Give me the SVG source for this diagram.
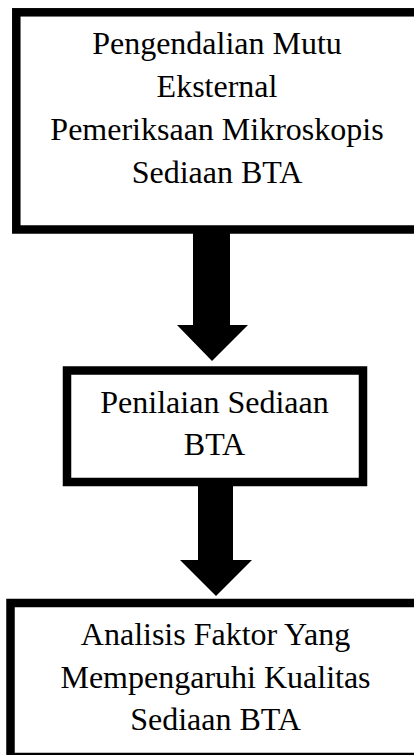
<svg xmlns="http://www.w3.org/2000/svg" width="414" height="755" viewBox="0 0 414 755">
<style>
.box{fill:#fff;stroke:#000;stroke-width:8.5}
.t{font-family:"Liberation Serif","Times New Roman",serif;font-size:32px;fill:#000;text-anchor:middle}
.arr{fill:#000}
</style>
<rect width="414" height="755" fill="#fff"/>
<g id="node1">
<rect class="box" x="16.3" y="12.3" width="420" height="217.2"/>
<text class="t" x="217" y="54">Pengendalian Mutu</text>
<text class="t" x="217" y="97">Eksternal</text>
<text class="t" x="217" y="140">Pemeriksaan Mikroskopis</text>
<text class="t" x="217" y="183">Sediaan BTA</text>
</g>
<g id="node2">
<rect class="box" x="67" y="370.5" width="296" height="111.5"/>
<text class="t" x="214.5" y="413">Penilaian Sediaan</text>
<text class="t" x="214.5" y="455">BTA</text>
</g>
<g id="node3">
<rect class="box" x="10.5" y="603" width="420" height="154"/>
<text class="t" x="215.5" y="645">Analisis Faktor Yang</text>
<text class="t" x="215.5" y="688">Mempengaruhi Kualitas</text>
<text class="t" x="215.5" y="730">Sediaan BTA</text>
</g>
<g id="connectors">
<polygon class="arr" points="193,233 230,233 230,325 248,325 212,361 177,325 193,325"/>
<polygon class="arr" points="198,486 233,486 233,560 252,560 216,596 180,560 198,560"/>
</g>
</svg>
